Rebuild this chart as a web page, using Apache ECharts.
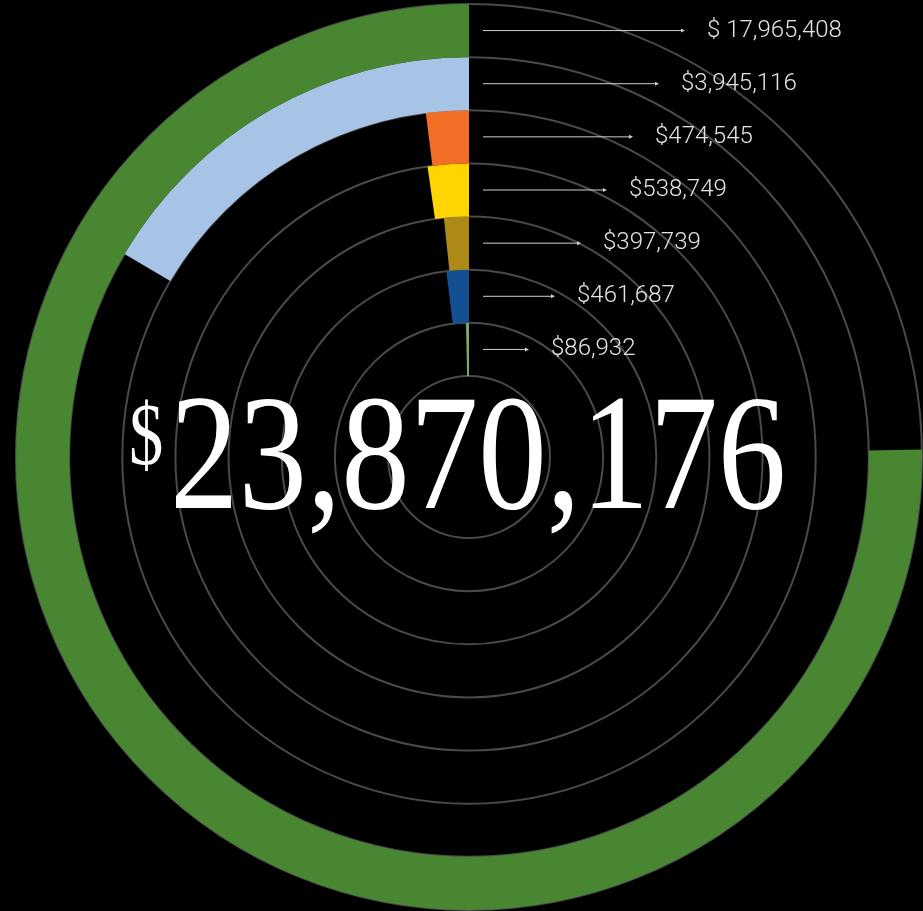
<!DOCTYPE html>
<html>
<head>
<meta charset="utf-8">
<script src="https://cdn.jsdelivr.net/npm/echarts@6/dist/echarts.min.js"></script>
<style>
    html, body { margin: 0; padding: 0; background: #000; }
    #main { width: 923px; height: 911px; }
</style>
</head>
<body>
<div id="main"></div>
<script>
    // rings, listed from the inside out
    var categories = ['Ring 1', 'Ring 2', 'Ring 3', 'Ring 4', 'Ring 5', 'Ring 6', 'Ring 7'];
    var values = [86932, 461687, 397739, 538749, 474545, 3945116, 17965408];
    var labelTexts = ['$86,932', '$461,687', '$397,739', '$538,749', '$474,545', '$3,945,116', '$ 17,965,408'];
    var colors = ['#7ea86a', '#134f93', '#ad8a17', '#fed500', '#f26e24', '#a7c4e6', '#488632'];
    var total = 23870176;

    var chart = echarts.init(document.getElementById('main'));

    var barData = values.map(function (v, i) {
        return { value: v, itemStyle: { color: colors[i] } };
    });

    var option = {
        backgroundColor: '#000',
        animation: false,
        polar: {
            center: [469, 457],
            radius: [81, 453]
        },
        angleAxis: {
            type: 'value',
            min: 0,
            max: total,
            startAngle: 90,
            clockwise: false,
            axisLine: { show: false },
            axisTick: { show: false },
            axisLabel: { show: false },
            splitLine: { show: false }
        },
        radiusAxis: {
            type: 'category',
            data: categories,
            axisLine: { show: false },
            axisTick: { show: false },
            axisLabel: { show: false },
            splitLine: {
                show: true,
                lineStyle: { color: '#4a4a4a', width: 2 }
            }
        },
        series: [{
            type: 'bar',
            coordinateSystem: 'polar',
            barWidth: '100%',
            barCategoryGap: 0,
            data: barData,
            z: 3
        }]
    };
    chart.setOption(option);

    // arrows + value labels, one per ring, at the top of each band
    var graphics = [];
    values.forEach(function (v, i) {
        var pt = chart.convertToPixel({ seriesIndex: 0 }, [i, 0]);
        var y = pt[1];
        var x0 = 483;
        var x1 = x0 + 46 + 26 * i;
        graphics.push({
            type: 'line',
            shape: { x1: x0, y1: y, x2: x1 - 3, y2: y },
            style: { stroke: '#d0d0d0', lineWidth: 1 },
            z: 10
        });
        graphics.push({
            type: 'polygon',
            shape: { points: [[x1, y], [x1 - 4, y - 2], [x1 - 4, y + 2]] },
            style: { fill: '#d0d0d0' },
            z: 10
        });
        graphics.push({
            type: 'text',
            x: x1 + 22,
            y: y,
            style: {
                text: labelTexts[i],
                fill: '#e4e4e4',
                font: '300 24px Roboto, "Liberation Sans", sans-serif',
                textAlign: 'left',
                textVerticalAlign: 'middle'
            },
            z: 10
        });
    });

    // big total in the middle
    graphics.push({
        type: 'text',
        x: 129,
        y: 397,
        scaleX: 0.78,
        style: {
            text: '$',
            fill: '#fff',
            font: '88px "Liberation Serif", serif',
            textAlign: 'left',
            textVerticalAlign: 'top'
        },
        z: 10
    });
    graphics.push({
        type: 'text',
        x: 170,
        y: 465,
        scaleX: 0.83,
        style: {
            text: total.toLocaleString('en-US'),
            fill: '#fff',
            font: '165px "Liberation Serif", serif',
            textAlign: 'left',
            textVerticalAlign: 'middle'
        },
        z: 10
    });

    chart.setOption({ graphic: graphics });
</script>
</body>
</html>
